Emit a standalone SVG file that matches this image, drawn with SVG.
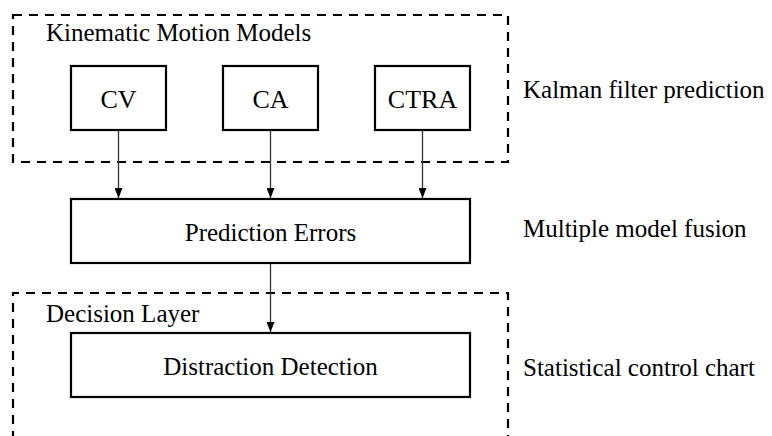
<svg xmlns="http://www.w3.org/2000/svg" width="772" height="436" viewBox="0 0 772 436">
  <defs>
    <marker id="arr" markerWidth="10" markerHeight="8" refX="10" refY="4" orient="auto" markerUnits="userSpaceOnUse">
      <path d="M0,0 L10,4 L0,8 Z" fill="#000"/>
    </marker>
    <style>
      .group { fill: none; stroke: #000; stroke-width: 2.2; stroke-dasharray: 9 7; }
      .box { fill: #fff; stroke: #000; stroke-width: 2.2; }
      .edge { stroke: #333; stroke-width: 1.3; fill: none; marker-end: url(#arr); }
    </style>
  </defs>
  <rect width="772" height="436" fill="#fff"/>

  <g id="group-kinematic">
    <rect class="group" x="13" y="15" width="495" height="147"/>
    <text x="46" y="41" font-family="'Liberation Serif', serif" font-size="25">Kinematic Motion Models</text>
  </g>
  <g id="group-decision">
    <path class="group" d="M13,440 L13,293 L508,293 L508,440"/>
    <text x="46" y="322" font-family="'Liberation Serif', serif" font-size="25">Decision Layer</text>
  </g>

  <g id="connectors">
    <line class="edge" x1="118.5" y1="130" x2="118.5" y2="198"/>
    <line class="edge" x1="270.5" y1="130" x2="270.5" y2="198"/>
    <line class="edge" x1="422.5" y1="130" x2="422.5" y2="198"/>
    <line class="edge" x1="270.5" y1="263" x2="270.5" y2="332"/>
  </g>

  <g id="node-cv">
    <rect class="box" x="71" y="66" width="95" height="64"/>
    <text x="118.5" y="108" text-anchor="middle" font-family="'Liberation Serif', serif" font-size="26">CV</text>
  </g>
  <g id="node-ca">
    <rect class="box" x="223" y="66" width="95" height="64"/>
    <text x="270.5" y="108" text-anchor="middle" font-family="'Liberation Serif', serif" font-size="26">CA</text>
  </g>
  <g id="node-ctra">
    <rect class="box" x="375" y="66" width="95" height="64"/>
    <text x="422.5" y="108" text-anchor="middle" font-family="'Liberation Serif', serif" font-size="26">CTRA</text>
  </g>
  <g id="node-prediction-errors">
    <rect class="box" x="71" y="199" width="399" height="64"/>
    <text x="270.5" y="241" text-anchor="middle" font-family="'Liberation Serif', serif" font-size="25">Prediction Errors</text>
  </g>
  <g id="node-distraction-detection">
    <rect class="box" x="71" y="333" width="399" height="64"/>
    <text x="270.5" y="375" text-anchor="middle" font-family="'Liberation Serif', serif" font-size="25">Distraction Detection</text>
  </g>

  <g id="side-labels">
    <text x="523" y="98" font-family="'Liberation Serif', serif" font-size="25">Kalman filter prediction</text>
    <text x="523" y="237" font-family="'Liberation Serif', serif" font-size="25">Multiple model fusion</text>
    <text x="523" y="376" font-family="'Liberation Serif', serif" font-size="25">Statistical control chart</text>
  </g>
</svg>
